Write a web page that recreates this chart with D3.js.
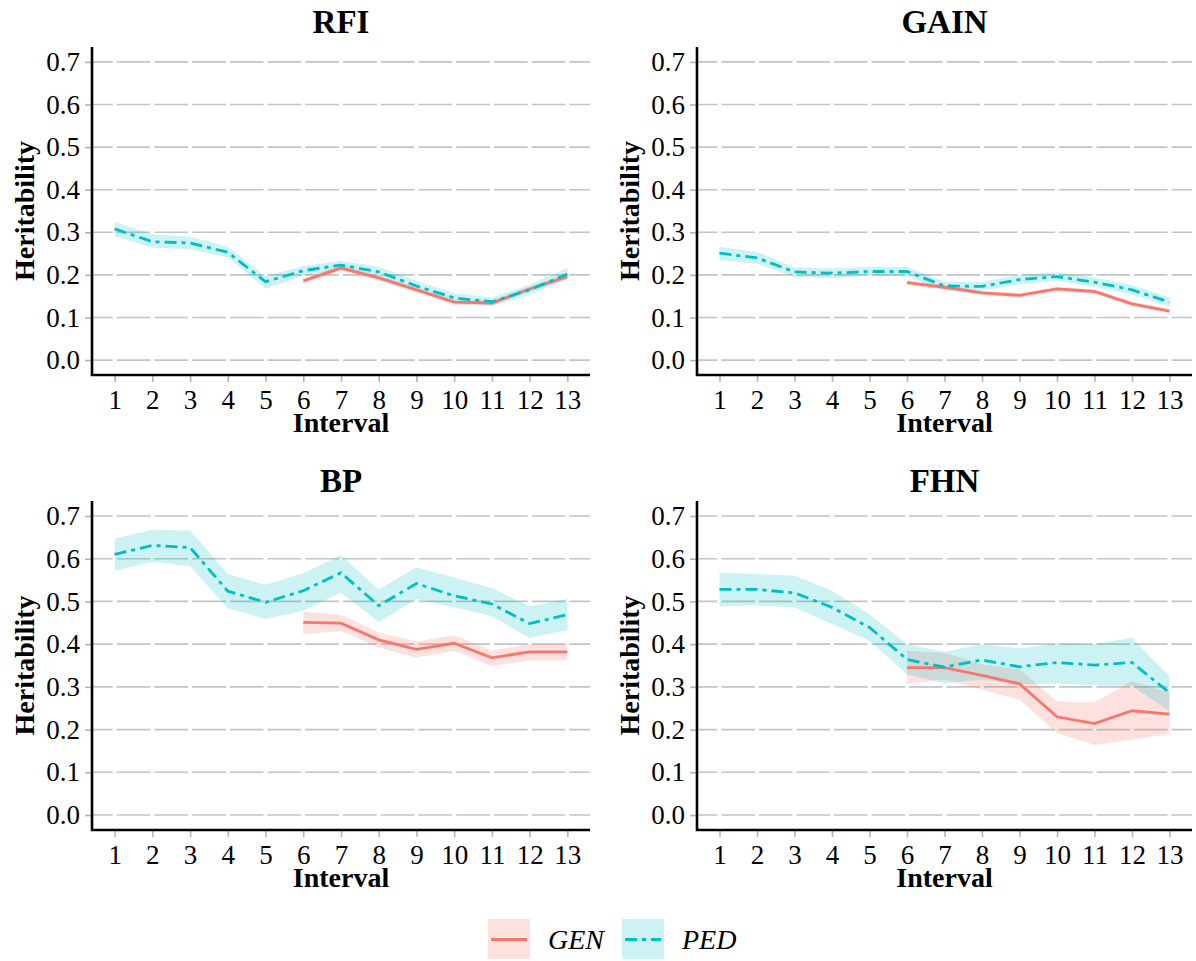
<!DOCTYPE html>
<html>
<head>
<meta charset="utf-8">
<script src="https://cdn.jsdelivr.net/npm/d3@7"></script>
<style>
  body { margin: 0; background: #ffffff; }
  svg text { font-family: "Liberation Serif", "Times New Roman", serif; fill: #000; }
</style>
</head>
<body>
<div id="chart"></div>
<script>
// Intervals on the x axis
var intervals = [1, 2, 3, 4, 5, 6, 7, 8, 9, 10, 11, 12, 13];
// GEN estimates only exist from interval 6 on
var genIntervals = [6, 7, 8, 9, 10, 11, 12, 13];
var yTicks = [0, 0.1, 0.2, 0.3, 0.4, 0.5, 0.6, 0.7];

// RFI
var pedRFI = [0.308, 0.278, 0.275, 0.253, 0.184, 0.210, 0.223, 0.207, 0.174, 0.146, 0.137, 0.165, 0.202];
var pedRFILo = [0.291, 0.264, 0.260, 0.241, 0.168, 0.197, 0.213, 0.195, 0.162, 0.135, 0.127, 0.153, 0.190];
var pedRFIHi = [0.325, 0.295, 0.290, 0.266, 0.197, 0.221, 0.233, 0.219, 0.186, 0.157, 0.147, 0.177, 0.216];
var genRFI = [0.186, 0.216, 0.193, 0.165, 0.136, 0.134, 0.167, 0.196];
var genRFILo = [0.180, 0.210, 0.187, 0.159, 0.130, 0.128, 0.161, 0.190];
var genRFIHi = [0.192, 0.222, 0.199, 0.171, 0.142, 0.140, 0.173, 0.202];

// GAIN
var pedGAIN = [0.251, 0.240, 0.207, 0.204, 0.208, 0.208, 0.174, 0.173, 0.189, 0.196, 0.183, 0.165, 0.136];
var pedGAINLo = [0.235, 0.226, 0.195, 0.192, 0.198, 0.197, 0.164, 0.163, 0.178, 0.186, 0.172, 0.154, 0.125];
var pedGAINHi = [0.266, 0.254, 0.218, 0.215, 0.219, 0.219, 0.184, 0.184, 0.200, 0.206, 0.194, 0.176, 0.147];
var genGAIN = [0.182, 0.171, 0.158, 0.152, 0.167, 0.161, 0.132, 0.115];
var genGAINLo = [0.177, 0.166, 0.153, 0.147, 0.162, 0.156, 0.127, 0.110];
var genGAINHi = [0.187, 0.176, 0.163, 0.157, 0.172, 0.166, 0.137, 0.120];

// BP
var pedBP = [0.610, 0.631, 0.626, 0.524, 0.498, 0.525, 0.567, 0.490, 0.542, 0.513, 0.494, 0.448, 0.469];
var pedBPLo = [0.572, 0.592, 0.582, 0.484, 0.459, 0.478, 0.521, 0.451, 0.506, 0.486, 0.466, 0.414, 0.433];
var pedBPHi = [0.647, 0.668, 0.666, 0.564, 0.539, 0.566, 0.608, 0.527, 0.580, 0.556, 0.531, 0.488, 0.506];
var genBP = [0.451, 0.449, 0.410, 0.388, 0.402, 0.368, 0.382, 0.382];
var genBPLo = [0.423, 0.431, 0.392, 0.368, 0.385, 0.348, 0.362, 0.362];
var genBPHi = [0.476, 0.469, 0.427, 0.406, 0.421, 0.385, 0.400, 0.400];

// FHN
var pedFHN = [0.528, 0.528, 0.520, 0.486, 0.439, 0.364, 0.346, 0.363, 0.347, 0.357, 0.351, 0.357, 0.286];
var pedFHNLo = [0.488, 0.491, 0.486, 0.447, 0.408, 0.329, 0.308, 0.317, 0.306, 0.308, 0.304, 0.302, 0.243];
var pedFHNHi = [0.567, 0.564, 0.560, 0.525, 0.470, 0.400, 0.382, 0.400, 0.390, 0.402, 0.400, 0.415, 0.325];
var genFHN = [0.345, 0.345, 0.327, 0.307, 0.230, 0.214, 0.244, 0.236];
var genFHNLo = [0.307, 0.317, 0.294, 0.270, 0.192, 0.164, 0.176, 0.190];
var genFHNHi = [0.384, 0.380, 0.353, 0.341, 0.266, 0.264, 0.313, 0.286];

// Colours
var genColor = "#F8766D";
var pedColor = "#00BFC4";
var pedDash = "12,5,4,5";
var serif = "'Liberation Serif', 'Times New Roman', serif";

// Build one record per panel from the arrays above
function rows(xs, mid, lo, hi) {
  return xs.map(function(x, i) {
    return { x: x, y: mid[i], lo: lo[i], hi: hi[i] };
  });
}
var panels = [
  { title: "RFI", col: 0, row: 0,
    ped: rows(intervals, pedRFI, pedRFILo, pedRFIHi),
    gen: rows(genIntervals, genRFI, genRFILo, genRFIHi) },
  { title: "GAIN", col: 1, row: 0,
    ped: rows(intervals, pedGAIN, pedGAINLo, pedGAINHi),
    gen: rows(genIntervals, genGAIN, genGAINLo, genGAINHi) },
  { title: "BP", col: 0, row: 1,
    ped: rows(intervals, pedBP, pedBPLo, pedBPHi),
    gen: rows(genIntervals, genBP, genBPLo, genBPHi) },
  { title: "FHN", col: 1, row: 1,
    ped: rows(intervals, pedFHN, pedFHNLo, pedFHNHi),
    gen: rows(genIntervals, genFHN, genFHNLo, genFHNHi) }
];

var width = 1196;
var height = 961;

// Panel box edges
var colX = [[92, 590], [697, 1192]];
var rowY = [[47, 375], [501, 830]];
// Title baseline offset above each row
var titleGap = [14, 9];

var svg = d3
  .select("#chart")
  .append("svg")
  .attr("width", width)
  .attr("height", height);

panels.forEach(function(p) {
  var x0 = colX[p.col][0], x1 = colX[p.col][1];
  var y0 = rowY[p.row][0], y1 = rowY[p.row][1];

  var xScale = d3.scaleLinear().domain([0.4, 13.6]).range([x0, x1]);
  var yScale = d3.scaleLinear().domain([-0.035, 0.735]).range([y1, y0]);

  var g = svg.append("g").attr("class", "panel");

  // Dashed horizontal grid, gaps sit under each x tick
  var step = xScale(2) - xScale(1);
  var gap = 4;
  var firstDash = xScale(1) - gap / 2 - x0;
  g.selectAll("line.grid")
    .data(yTicks)
    .enter()
    .append("line")
    .attr("class", "grid")
    .attr("x1", x0)
    .attr("x2", x1)
    .attr("y1", function(d) { return yScale(d); })
    .attr("y2", function(d) { return yScale(d); })
    .attr("stroke", "#c4c4c4")
    .attr("stroke-width", 1.6)
    .attr("stroke-dasharray", (step - gap) + "," + gap)
    .attr("stroke-dashoffset", (step - gap) - firstDash);

  var area = d3.area()
    .x(function(d) { return xScale(d.x); })
    .y0(function(d) { return yScale(d.lo); })
    .y1(function(d) { return yScale(d.hi); });
  var line = d3.line()
    .x(function(d) { return xScale(d.x); })
    .y(function(d) { return yScale(d.y); });

  // Ribbons
  g.append("path").datum(p.gen).attr("d", area)
    .attr("fill", genColor).attr("fill-opacity", 0.22);
  g.append("path").datum(p.ped).attr("d", area)
    .attr("fill", pedColor).attr("fill-opacity", 0.2);

  // Lines
  g.append("path").datum(p.gen).attr("d", line)
    .attr("fill", "none")
    .attr("stroke", genColor)
    .attr("stroke-width", 2.8);
  g.append("path").datum(p.ped).attr("d", line)
    .attr("fill", "none")
    .attr("stroke", pedColor)
    .attr("stroke-width", 2.8)
    .attr("stroke-dasharray", pedDash);

  // Axes
  var xAxis = d3.axisBottom(xScale).tickValues(intervals).tickSize(7).tickPadding(8);
  var yAxis = d3.axisLeft(yScale).tickValues(yTicks).tickSize(7).tickPadding(5)
    .tickFormat(d3.format(".1f"));

  var gx = g.append("g")
    .attr("transform", "translate(0," + y1 + ")")
    .call(xAxis);
  var gy = g.append("g")
    .attr("transform", "translate(" + x0 + ",0)")
    .call(yAxis);

  [gx, gy].forEach(function(a) {
    a.attr("font-family", null).attr("font-size", null);
    a.select(".domain").remove();
    a.selectAll(".tick line").attr("stroke", "#b3b3b3").attr("stroke-width", 1.6);
    a.selectAll(".tick text")
      .style("font-family", serif)
      .style("font-size", "27px")
      .attr("fill", "#000");
  });

  // L-shaped axis lines
  g.append("path")
    .attr("d", "M" + x0 + "," + y0 + "V" + y1 + "H" + x1)
    .attr("fill", "none")
    .attr("stroke", "#000")
    .attr("stroke-width", 2.6);

  // Panel title
  g.append("text")
    .attr("x", (x0 + x1) / 2)
    .attr("y", y0 - titleGap[p.row])
    .attr("text-anchor", "middle")
    .attr("font-weight", "bold")
    .attr("font-size", 33)
    .text(p.title);

  // Axis titles
  g.append("text")
    .attr("x", (x0 + x1) / 2)
    .attr("y", y1 + 57)
    .attr("text-anchor", "middle")
    .attr("font-weight", "bold")
    .attr("font-size", 28)
    .text("Interval");

  g.append("text")
    .attr("transform", "translate(" + (x0 - 58) + "," + ((y0 + y1) / 2) + ")rotate(-90)")
    .attr("text-anchor", "middle")
    .attr("font-weight", "bold")
    .attr("font-size", 28)
    .text("Heritability");
});

// Legend at the bottom
var legendItems = [
  { label: "GEN", color: genColor, opacity: 0.22, dash: null, x: 488 },
  { label: "PED", color: pedColor, opacity: 0.2, dash: pedDash, x: 622 }
];
var legend = svg.append("g").attr("class", "legend");
legendItems.forEach(function(d) {
  legend.append("rect")
    .attr("x", d.x)
    .attr("y", 919)
    .attr("width", 42)
    .attr("height", 40)
    .attr("fill", d.color)
    .attr("fill-opacity", d.opacity);
  legend.append("line")
    .attr("x1", d.x + 3)
    .attr("x2", d.x + 39)
    .attr("y1", 939.5)
    .attr("y2", 939.5)
    .attr("stroke", d.color)
    .attr("stroke-width", 2.8)
    .attr("stroke-dasharray", d.dash);
  legend.append("text")
    .attr("x", d.x + 60)
    .attr("y", 949)
    .attr("font-style", "italic")
    .attr("font-size", 28)
    .text(d.label);
});
</script>
</body>
</html>
